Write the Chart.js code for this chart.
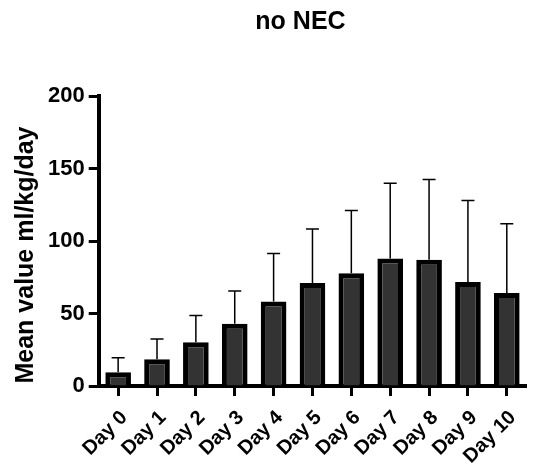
<!DOCTYPE html>
<html>
<head>
<meta charset="utf-8">
<script src="https://cdn.jsdelivr.net/npm/chart.js@4/dist/chart.umd.min.js"></script>
<style>
  body { margin: 0; background: #fff; }
</style>
</head>
<body>
<canvas id="chart" width="534" height="464"></canvas>
<script>
const chartTitle = 'no NEC';
const yAxisTitle = 'Mean value ml/kg/day';
const dayLabels = ['Day 0', 'Day 1', 'Day 2', 'Day 3', 'Day 4', 'Day 5', 'Day 6', 'Day 7', 'Day 8', 'Day 9', 'Day 10'];
const meanValues = [9.4, 18.4, 30.1, 42.9, 58.2, 71.0, 77.7, 88.0, 87.1, 71.7, 64.1];
const sdValues = [10.1, 14.1, 18.5, 22.6, 33.1, 37.2, 43.3, 51.8, 55.3, 56.2, 47.8];
const yMin = 0;
const yMax = 200;
const yStep = 50;

const fontFamily = '"Liberation Sans", Arial, Helvetica, sans-serif';

// chart title over the plot area and the y axis title, drawn by hand
const plotTitles = {
    id: 'plotTitles',
    afterDraw(chart) {
        const ctx = chart.ctx;
        const area = chart.chartArea;
        ctx.save();
        ctx.fillStyle = '#000';
        ctx.textAlign = 'center';
        ctx.textBaseline = 'alphabetic';
        ctx.font = 'bold 25px ' + fontFamily;
        ctx.fillText(chartTitle, (area.left + area.right) / 2 - 12, 29);

        ctx.font = 'bold 25px ' + fontFamily;
        ctx.textBaseline = 'middle';
        ctx.translate(26, (area.top + area.bottom) / 2 + 14);
        ctx.rotate(-Math.PI / 2);
        ctx.fillText(yAxisTitle, 0, 0);
        ctx.restore();
    }
};

// upward-only error bars (mean + SD) with a cap
const errorBars = {
    id: 'errorBars',
    afterDatasetsDraw(chart) {
        const ctx = chart.ctx;
        const x = chart.scales.x;
        const y = chart.scales.y;
        const cap = 6.5;
        ctx.save();
        ctx.strokeStyle = '#000';
        ctx.lineWidth = 1.5;
        for (let i = 0; i < meanValues.length; i++) {
            const px = x.getPixelForValue(i);
            const base = y.getPixelForValue(meanValues[i]);
            const top = y.getPixelForValue(meanValues[i] + sdValues[i]);
            ctx.beginPath();
            ctx.moveTo(px, base);
            ctx.lineTo(px, top);
            ctx.moveTo(px - cap, top);
            ctx.lineTo(px + cap, top);
            ctx.stroke();
        }
        ctx.restore();
    }
};

new Chart(document.getElementById('chart'), {
    type: 'bar',
    data: {
        labels: dayLabels,
        datasets: [{
            label: chartTitle,
            data: meanValues,
            backgroundColor: '#333333',
            borderColor: '#000000',
            borderWidth: 5,
            categoryPercentage: 1,
            barPercentage: 0.66
        }]
    },
    options: {
        responsive: false,
        animation: false,
        layout: {
            padding: { top: 96, right: 5, bottom: 0, left: 44 }
        },
        plugins: {
            legend: { display: false },
            tooltip: { enabled: false },
            title: { display: false }
        },
        scales: {
            x: {
                offset: true,
                afterFit: (scale) => { scale.height = 78; },
                grid: {
                    display: true,
                    offset: false,
                    drawOnChartArea: false,
                    drawTicks: true,
                    tickLength: 10,
                    tickWidth: 3,
                    tickColor: '#000'
                },
                border: { display: true, width: 4, color: '#000' },
                ticks: {
                    color: '#000',
                    font: { family: fontFamily, size: 20, weight: 'bold' },
                    minRotation: 45,
                    maxRotation: 45,
                    padding: 10,
                    labelOffset: 6,
                    autoSkip: false
                }
            },
            y: {
                min: yMin,
                max: yMax,
                grid: {
                    display: true,
                    drawOnChartArea: false,
                    drawTicks: true,
                    tickLength: 10,
                    tickWidth: 3,
                    tickColor: '#000'
                },
                border: { display: true, width: 4, color: '#000' },
                ticks: {
                    stepSize: yStep,
                    color: '#000',
                    font: { family: fontFamily, size: 22, weight: 'bold' },
                    padding: 4
                }
            }
        }
    },
    plugins: [plotTitles, errorBars]
});
</script>
</body>
</html>
